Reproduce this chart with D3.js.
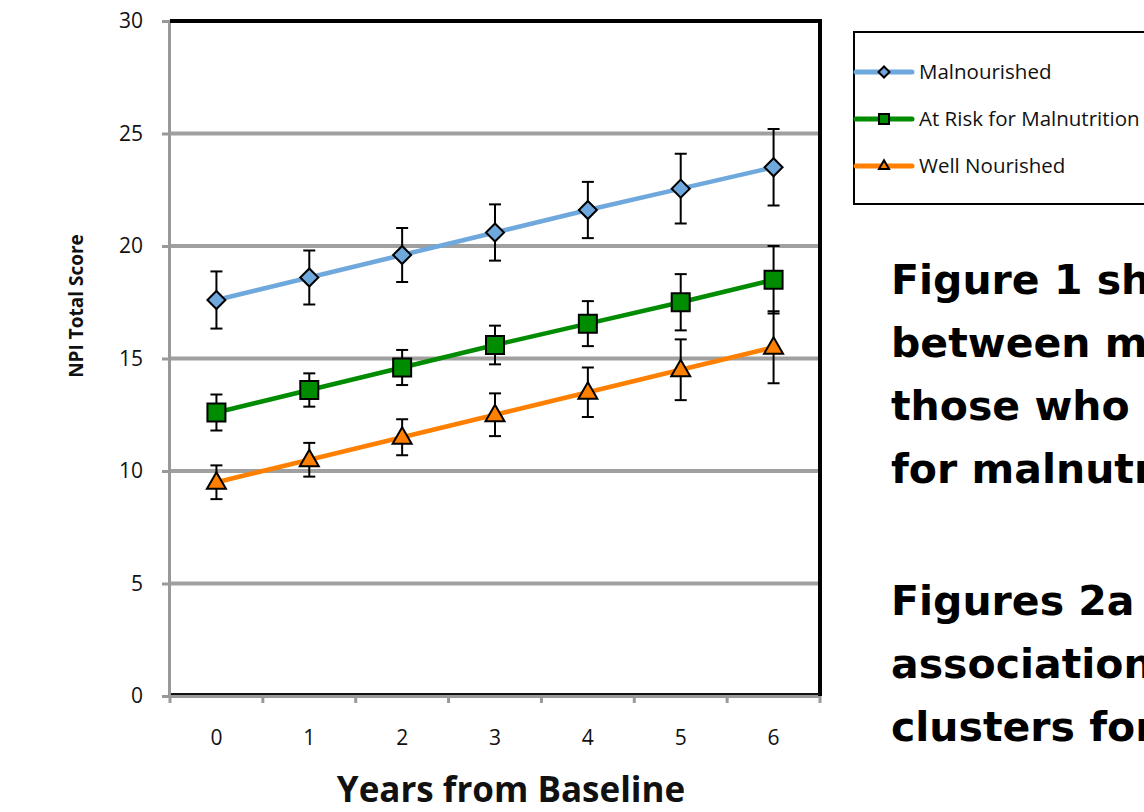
<!DOCTYPE html>
<html>
<head>
<meta charset="utf-8">
<script src="https://cdn.jsdelivr.net/npm/d3@7"></script>
<style>
  body { margin: 0; background: #fff; overflow: hidden; }
  svg { display: block; }
</style>
</head>
<body>
<svg id="chart" width="1144" height="812"></svg>
<script>
// data
const years = [0, 1, 2, 3, 4, 5, 6];
const yTicks = [0, 5, 10, 15, 20, 25, 30];
const seriesNames = ["Malnourished", "At Risk for Malnutrition", "Well Nourished"];
const malnourished = [17.6, 18.6, 19.6, 20.6, 21.6, 22.55, 23.5];
const malnourishedErr = [1.27, 1.2, 1.2, 1.25, 1.25, 1.55, 1.7];
const atRisk = [12.6, 13.6, 14.6, 15.6, 16.55, 17.5, 18.5];
const atRiskErr = [0.8, 0.74, 0.78, 0.86, 1.0, 1.25, 1.5];
const wellNourished = [9.5, 10.5, 11.5, 12.5, 13.5, 14.5, 15.5];
const wellNourishedErr = [0.75, 0.75, 0.8, 0.95, 1.1, 1.35, 1.6];
// side text, as much as the slide shows before its right edge
const textLines1 = ["Figure 1 shows", "between malnourished,", "those who were", "for malnutrition"];
const textLines2 = ["Figures 2a", "association", "clusters for"];

const series = [
  { name: seriesNames[0], values: malnourished, err: malnourishedErr, color: "#6fa8dc", shape: "diamond" },
  { name: seriesNames[1], values: atRisk, err: atRiskErr, color: "#008c00", shape: "square" },
  { name: seriesNames[2], values: wellNourished, err: wellNourishedErr, color: "#ff8000", shape: "triangle" }
];

const svg = d3.select("#chart");
const pLeft = 170, pRight = 820, pTop = 21, pBottom = 696;

const x = d3.scaleBand().domain(years).range([pLeft, pRight]);
const y = d3.scaleLinear().domain([0, 30]).range([pBottom, pTop]);

const font = "'Open Sans', sans-serif";

// gridlines
svg.append("g")
  .selectAll("line")
  .data(yTicks.filter(d => d > 0 && d < 30))
  .join("line")
  .attr("x1", pLeft).attr("x2", pRight)
  .attr("y1", d => y(d)).attr("y2", d => y(d))
  .attr("stroke", "#a0a0a0").attr("stroke-width", 4);

// y axis
const yAxis = svg.append("g")
  .attr("transform", `translate(${pLeft - 1},0)`)
  .call(d3.axisLeft(y).tickValues(yTicks).tickSize(7).tickPadding(19));
yAxis.select(".domain").attr("stroke", "#999").attr("stroke-width", 3);
yAxis.selectAll(".tick line").attr("stroke", "#999").attr("stroke-width", 3);
yAxis.selectAll("text").attr("font-family", font).attr("font-size", 21).attr("fill", "#111");

// x axis
const xAxis = svg.append("g")
  .attr("transform", `translate(0,${pBottom})`)
  .call(d3.axisBottom(x).tickSize(0).tickPadding(34));
xAxis.select(".domain").attr("stroke", "#999").attr("stroke-width", 3);
xAxis.selectAll("text").attr("font-family", font).attr("font-size", 21).attr("fill", "#111");
xAxis.selectAll(".xt")
  .data(d3.range(years.length + 1))
  .join("line")
  .attr("x1", i => pLeft + i * x.bandwidth()).attr("x2", i => pLeft + i * x.bandwidth())
  .attr("y1", 0).attr("y2", 7)
  .attr("stroke", "#999").attr("stroke-width", 3);

// frame
svg.append("line").attr("x1", pLeft).attr("x2", pRight + 2).attr("y1", pTop).attr("y2", pTop)
  .attr("stroke", "#000").attr("stroke-width", 4);
svg.append("line").attr("x1", pRight).attr("x2", pRight).attr("y1", pTop).attr("y2", pBottom)
  .attr("stroke", "#000").attr("stroke-width", 4);
svg.append("line").attr("x1", pLeft + 1).attr("x2", pRight).attr("y1", pBottom - 2).attr("y2", pBottom - 2)
  .attr("stroke", "#111").attr("stroke-width", 2);

// axis titles
svg.append("text")
  .attr("x", 511).attr("y", 802)
  .attr("text-anchor", "middle")
  .attr("font-family", font).attr("font-weight", "bold").attr("font-size", 35)
  .attr("fill", "#111")
  .text("Years from Baseline");
svg.append("text")
  .attr("transform", "translate(83,306) rotate(-90)")
  .attr("text-anchor", "middle")
  .attr("font-family", font).attr("font-weight", "bold").attr("font-size", 19)
  .attr("fill", "#111")
  .text("NPI Total Score");

function markerPath(shape, s) {
  if (shape === "diamond") return d3.symbol(d3.symbolSquare, s * s * 0.5)();
  if (shape === "square") return d3.symbol(d3.symbolSquare, s * s)();
  return d3.symbol(d3.symbolTriangle, s * s * Math.sqrt(3) / 4)();
}

const cx = i => x(years[i]) + x.bandwidth() / 2;

series.forEach(s => {
  const g = svg.append("g");
  const line = d3.line().x((d, i) => cx(i)).y(d => y(d));
  g.append("path")
    .attr("d", line(s.values))
    .attr("fill", "none").attr("stroke", s.color).attr("stroke-width", 4.5);

  // error bars
  s.values.forEach((v, i) => {
    const x0 = cx(i), y1 = y(v + s.err[i]), y2 = y(v - s.err[i]);
    g.append("line").attr("x1", x0).attr("x2", x0).attr("y1", y1).attr("y2", y2)
      .attr("stroke", "#000").attr("stroke-width", 2);
    [y1, y2].forEach(yy => g.append("line")
      .attr("x1", x0 - 6).attr("x2", x0 + 6).attr("y1", yy).attr("y2", yy)
      .attr("stroke", "#000").attr("stroke-width", 2));
  });

  g.selectAll(".m")
    .data(s.values)
    .join("path")
    .attr("d", markerPath(s.shape, s.shape === "triangle" ? 19 : 18))
    .attr("transform", (d, i) => `translate(${cx(i)},${y(d) + (s.shape === "triangle" ? 1 : 0)})` + (s.shape === "diamond" ? " rotate(45)" : ""))
    .attr("fill", s.color).attr("stroke", "#000").attr("stroke-width", 2);
});

// legend
const lg = svg.append("g");
lg.append("rect").attr("x", 854).attr("y", 32).attr("width", 400).attr("height", 172)
  .attr("fill", "#fff").attr("stroke", "#000").attr("stroke-width", 2);
series.forEach((s, i) => {
  const ly = 72 + i * 47;
  lg.append("line").attr("x1", 856).attr("x2", 912).attr("y1", ly).attr("y2", ly)
    .attr("stroke", s.color).attr("stroke-width", 5).attr("stroke-linecap", "round");
  lg.append("path")
    .attr("d", markerPath(s.shape, s.shape === "diamond" ? 11 : 10))
    .attr("transform", `translate(884,${ly})` + (s.shape === "diamond" ? " rotate(45)" : ""))
    .attr("fill", s.color).attr("stroke", "#000").attr("stroke-width", 2);
  lg.append("text").attr("x", 919).attr("y", ly + 7)
    .attr("font-family", font).attr("font-size", 20.5).attr("fill", "#111")
    .text(s.name);
});

// side text
const sideFont = "'DejaVu Sans', sans-serif";
textLines1.forEach((t, i) => svg.append("text")
  .attr("x", 891).attr("y", 294 + i * 63)
  .attr("font-family", sideFont).attr("font-weight", "bold").attr("font-size", 41)
  .attr("fill", "#000").text(t));
textLines2.forEach((t, i) => svg.append("text")
  .attr("x", 891).attr("y", 615 + i * 63)
  .attr("font-family", sideFont).attr("font-weight", "bold").attr("font-size", 41)
  .attr("fill", "#000").text(t));
</script>
</body>
</html>
